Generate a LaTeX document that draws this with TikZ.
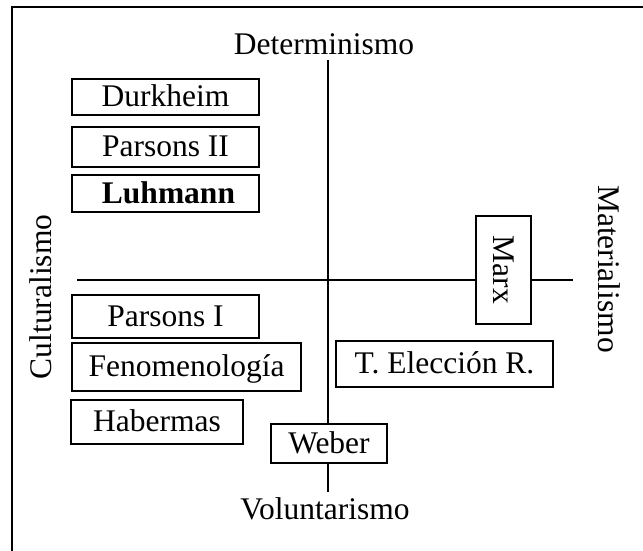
\documentclass[tikz,border=0pt]{standalone}
\usepackage{fontspec}
\setmainfont{Liberation Serif}
\begin{document}
\begin{tikzpicture}[x=1pt,y=1pt,
  every node/.style={font=\fontsize{31.5}{36}\selectfont},
  author/.style={draw, line width=1.3pt, fill=white, inner sep=0pt,
    text height=22pt, text depth=2pt},
  axis/.style={line width=1.4pt},
  pole/.style={inner sep=0pt, anchor=base}]
\useasboundingbox (0,0) rectangle (643,551);
% open frame
\draw[line width=2pt] (12,-4) -- (12,544) -- (648,544);

% axes
\coordinate (top) at (328,491);
\coordinate (bottom) at (328,59);
\coordinate (left) at (77,271);
\coordinate (right) at (573,271);
\draw[axis] (top) -- (bottom);
\draw[axis] (left) -- (right);

% poles
\node[pole] (det) at (324,496) {Determinismo};
\node[pole] (vol) at (325,31) {Voluntarismo};
\node[pole, rotate=90] (cul) at (51,254) {Culturalismo};
\node[pole, rotate=-90] (mat) at (598,282) {Materialismo};

% authors and schools
\node[author, minimum width=187pt, minimum height=36pt] (durk) at (165.5,454) {Durkheim\hspace{16pt}};
\node[author, minimum width=187pt, minimum height=40pt] (pars2) at (165.5,404) {Parsons II};
\node[author, minimum width=187pt, minimum height=37pt] (luhm) at (165.5,357.5) {\textbf{Luhmann}\hspace*{-6pt}};
\node[author, minimum width=187pt, minimum height=43pt] (pars1) at (165.5,234.5) {Parsons I};
\node[author, minimum width=229pt, minimum height=48pt] (feno) at (186.5,184) {Fenomenología};
\node[author, minimum width=172pt, minimum height=44pt] (habe) at (157,129) {Habermas};
\node[author, minimum width=116pt, minimum height=39pt] (webe) at (329,107.5) {Weber};
\node[author, minimum width=217pt, minimum height=46pt] (trat) at (444.5,187) {T. Elección R.};
\node[author, rotate=-90, minimum width=108pt, minimum height=55pt] (marx) at (503.5,281) {Marx};
\end{tikzpicture}
\end{document}
